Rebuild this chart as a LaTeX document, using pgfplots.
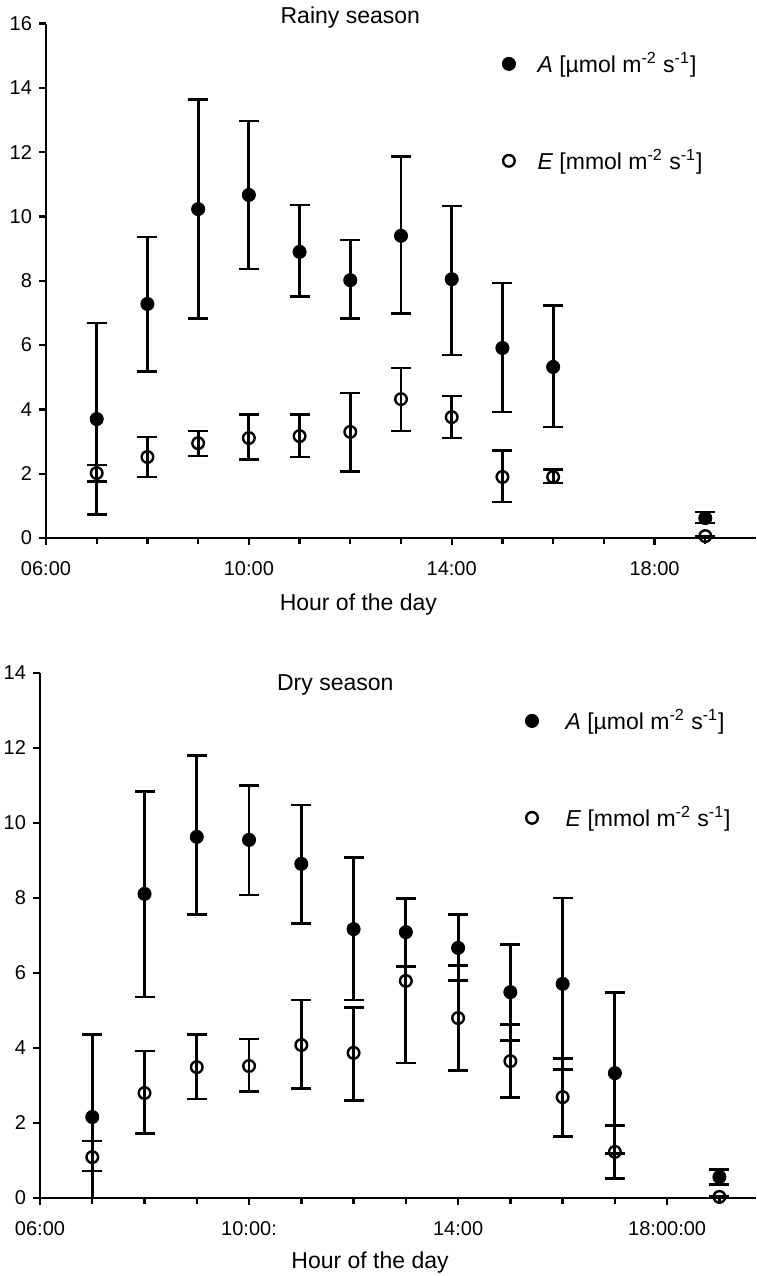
\documentclass[border=0pt]{standalone}
\usepackage{fontspec}
\setmainfont{Liberation Sans}
\usepackage{pgfplots}
\usepackage{pgfplotstable}
\pgfplotsset{compat=1.18}

% x  y  err+  err-
\pgfplotstableread{
x y ep em
7 3.70 2.99 2.98
8 7.28 2.08 2.09
9 10.23 3.42 3.39
10 10.67 2.30 2.30
11 8.90 1.46 1.40
12 8.02 1.25 1.18
13 9.40 2.46 2.41
14 8.05 2.28 2.36
15 5.91 2.02 1.99
16 5.32 1.90 1.87
19 0.62 0.19 0.15
}\rainyA
\pgfplotstableread{
x y ep em
7 2.02 0.25 0.25
8 2.52 0.62 0.62
9 2.95 0.38 0.40
10 3.11 0.72 0.68
11 3.17 0.66 0.65
12 3.30 1.21 1.22
13 4.32 0.97 0.99
14 3.76 0.66 0.65
15 1.90 0.81 0.78
16 1.90 0.22 0.19
19 0.06 0 0
}\rainyE
\pgfplotstableread{
x y ep em
7 2.16 2.21 2.16
8 8.11 2.72 2.75
9 9.63 2.16 2.08
10 9.55 1.44 1.47
11 8.91 1.57 1.58
12 7.17 1.90 1.89
13 7.09 0.91 0.91
14 6.67 0.88 0.88
15 5.49 1.28 1.28
16 5.71 2.29 2.29
17 3.33 2.14 2.14
19 0.56 0.21 0.19
}\dryA
\pgfplotstableread{
x y ep em
7 1.09 0.43 0.37
8 2.80 1.12 1.07
9 3.49 0.86 0.85
10 3.52 0.72 0.69
11 4.08 1.20 1.15
12 3.87 1.22 1.28
13 5.79 2.20 2.19
14 4.80 1.41 1.41
15 3.65 0.98 0.98
16 2.69 1.04 1.04
17 1.23 0.70 0.70
19 0.03 0 0
}\dryE

\newcommand{\lab}{\fontsize{11.5}{13}\selectfont}

\pgfplotsset{
  panel/.style={
    scale only axis,
    clip=false,
    axis x line=bottom, axis y line=left,
    axis line style={-, line width=1.2pt},
    tick style={line width=1.2pt, black},
    tick align=outside,
    major tick length=3.5pt, minor tick length=3pt,
    xmin=6, ymin=0,
    xtick={6,10,14,18},
    minor xtick={7,8,9,11,12,13,15,16,17,19},
    ticklabel style={font=\fontsize{10}{12}\selectfont},
    xticklabel style={yshift=-4.5pt},
    yticklabel style={/pgf/number format/assume math mode=true},
    label style={font=\lab},
    legend style={draw=none, fill=none, inner sep=0pt, row sep=33pt,
      font=\lab},
    legend cell align=left,
  },
  serA/.style={only marks, mark=*, mark size=3.3pt, black,
    mark options={fill=black},
    error bars/.cd, y dir=both, y explicit,
    error bar style={line width=1.4pt, black},
    error mark options={rotate=90, mark size=5pt, line width=1.4pt, black}},
  serE/.style={only marks, mark=o, mark size=2.9pt, black,
    mark options={fill=white, line width=1.2pt},
    error bars/.cd, y dir=both, y explicit,
    error bar style={line width=1.4pt, black},
    error mark options={rotate=90, mark size=5pt, line width=1.4pt, black}},
}

\begin{document}
\begin{tikzpicture}
\useasboundingbox (0,0) rectangle (378pt,-638pt);

\begin{axis}[panel,
  at={(23pt,-269pt)}, anchor=south west,
  width=355pt, height=257.2pt,
  xmax=20, ymax=16, ytick={0,2,...,16},
  xticklabels={06:00,10:00,14:00,18:00},
  xlabel={Hour of the day},
  x label style={at={(axis description cs:0.44,-0.130)}, anchor=center},
  legend style={at={(axis cs:14.99,13.24)}, anchor=west,
    /tikz/every odd column/.style={column sep=9pt}},
]
\addplot[serA] table[x=x, y=y, y error plus=ep, y error minus=em] {\rainyA};
\addlegendentry{\textit{A} [µmol m\textsuperscript{-2} s\textsuperscript{-1}]}
\addplot[serE] table[x=x, y=y, y error plus=ep, y error minus=em] {\rainyE};
\addlegendentry{\textit{E} [mmol m\textsuperscript{-2} s\textsuperscript{-1}]}
\node[font=\lab] at (axis cs:12,16.2) {Rainy season};
\end{axis}

\begin{axis}[panel,
  at={(20pt,-599pt)}, anchor=south west,
  width=358pt, height=262.5pt,
  xmax=19.7, ymax=14, ytick={0,2,...,14},
  xticklabels={06:00,10:00:,14:00,18:00:00},
  xlabel={Hour of the day},
  x label style={at={(axis description cs:0.461,-0.122)}, anchor=center},
  legend style={at={(axis cs:15.28,11.43)}, anchor=west,
    /tikz/every odd column/.style={column sep=11.5pt}},
]
\addplot[serA] table[x=x, y=y, y error plus=ep, y error minus=em] {\dryA};
\addlegendentry{\textit{A} [µmol m\textsuperscript{-2} s\textsuperscript{-1}]}
\addplot[serE] table[x=x, y=y, y error plus=ep, y error minus=em] {\dryE};
\addlegendentry{\textit{E} [mmol m\textsuperscript{-2} s\textsuperscript{-1}]}
\node[font=\lab] at (axis cs:11.65,13.68) {Dry season};
\end{axis}
\end{tikzpicture}
\end{document}
